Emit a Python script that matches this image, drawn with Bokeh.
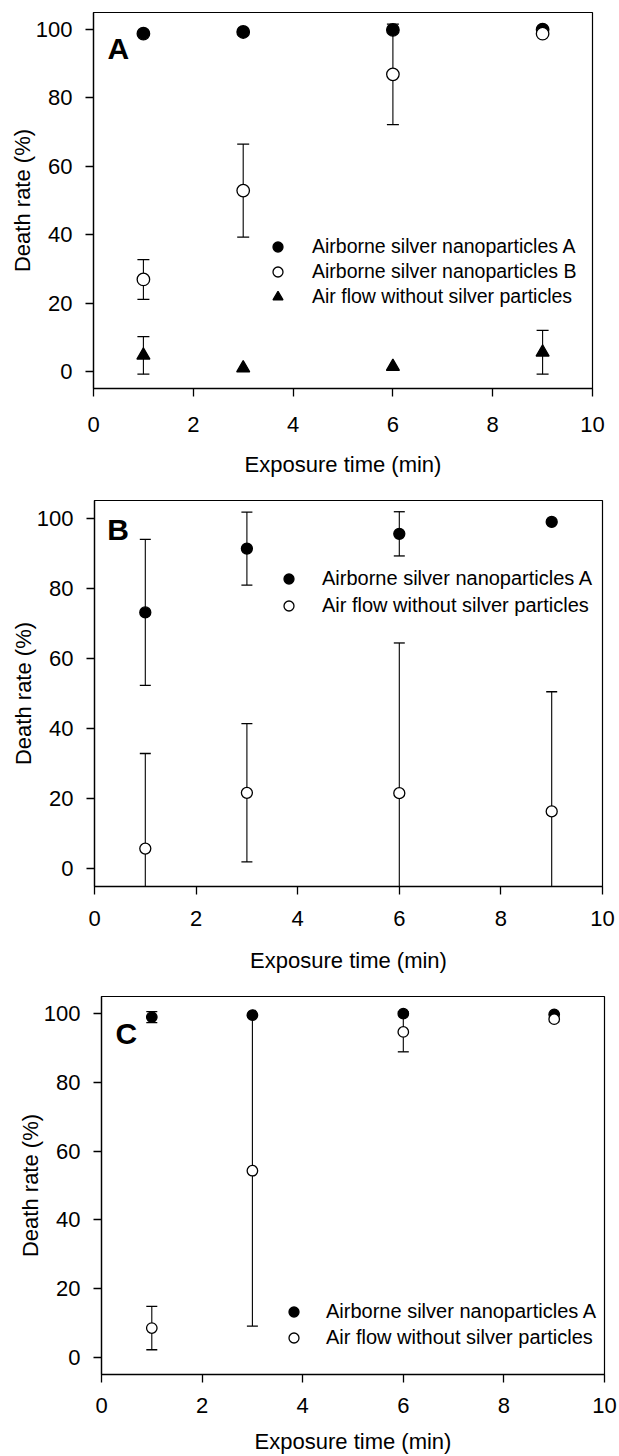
from bokeh.plotting import figure
from bokeh.models import ColumnDataSource, Legend, LegendItem, Label, FixedTicker, Range1d
from bokeh.embed import file_html
from bokeh.resources import INLINE

times = [1, 3, 6, 9]
x_ticks = [0, 2, 4, 6, 8, 10]
y_ticks = [0, 20, 40, 60, 80, 100]

label_np_a = "Airborne silver nanoparticles A"
label_np_b = "Airborne silver nanoparticles B"
label_ctrl = "Air flow without silver particles"
x_title = "Exposure time (min)"
y_title = "Death rate (%)"

# Panel A
a_np_a = [98.8, 99.3, 99.9, 100.0]
a_np_a_err = [0, 0, 0, 0]
a_np_b = [26.9, 52.9, 86.9, 98.8]
a_np_b_err = [5.8, 13.6, 14.7, 0]
a_ctrl = [4.7, 1.0, 1.4, 5.6]
a_ctrl_err = [5.5, 0, 0, 6.4]

# Panel B
b_np_a = [73.1, 91.3, 95.5, 98.9]
b_np_a_err = [20.8, 10.4, 6.3, 0]
b_ctrl = [5.8, 21.7, 21.6, 16.4]
b_ctrl_err = [27.1, 19.7, 42.8, 34.1]

# Panel C
c_np_a = [99.0, 99.6, 100.0, 99.8]
c_np_a_err = [1.6, 0, 0, 0]
c_ctrl = [8.5, 54.3, 94.7, 98.4]
c_ctrl_err = [6.3, 45.2, 5.8, 0]

FONT = "Liberation Sans"


def make_fig(width, height, bl, br, bt, bb, tick_standoff, title_standoff):
    p = figure(width=width, height=height, output_backend="svg", toolbar_location=None,
               x_range=Range1d(0, 10), y_range=Range1d(-5, 105))
    p.min_border_left = bl
    p.min_border_right = br
    p.min_border_top = bt
    p.min_border_bottom = bb
    p.grid.visible = False
    p.outline_line_color = "black"
    p.outline_line_width = 1.2
    p.background_fill_color = "white"
    p.border_fill_color = "white"
    p.xaxis.ticker = FixedTicker(ticks=x_ticks)
    p.yaxis.ticker = FixedTicker(ticks=y_ticks)
    for ax in (p.xaxis, p.yaxis):
        ax.axis_line_color = "black"
        ax.axis_line_width = 1.3
        ax.major_tick_line_color = "black"
        ax.major_tick_line_width = 1.3
        ax.major_tick_out = 8
        ax.major_tick_in = 0
        ax.minor_tick_line_color = None
        ax.major_label_text_font = FONT
        ax.major_label_text_font_size = "22px"
        ax.major_label_text_color = "black"
        ax.axis_label_text_font = FONT
        ax.axis_label_text_font_size = "22px"
        ax.axis_label_text_font_style = "normal"
        ax.axis_label_text_color = "black"
    p.xaxis.axis_label = x_title
    p.yaxis.axis_label = y_title
    p.xaxis.major_label_standoff = tick_standoff
    p.xaxis.axis_label_standoff = title_standoff
    p.yaxis.major_label_standoff = 13
    p.yaxis.axis_label_standoff = -2
    return p


def error_bars(p, vals, errs, cap):
    xs = [t for t, e in zip(times, errs) if e > 0]
    up = [v + e for v, e in zip(vals, errs) if e > 0]
    lo = [v - e for v, e in zip(vals, errs) if e > 0]
    src = ColumnDataSource(dict(x=xs, upper=up, lower=lo))
    p.segment(x0="x", y0="lower", x1="x", y1="upper", source=src, line_color="black", line_width=1.1)
    p.scatter(x="x", y="upper", source=src, marker="dash", size=cap, line_color="black", line_width=1.3)
    p.scatter(x="x", y="lower", source=src, marker="dash", size=cap, line_color="black", line_width=1.3)


def series(p, vals, marker, filled, size):
    src = ColumnDataSource(dict(x=times, y=vals))
    return p.scatter(x="x", y="y", source=src, marker=marker, size=size,
                     fill_color="black" if filled else "white", line_color="black", line_width=1.3)


def add_legend(p, items, loc, glyph, standoff, spacing, fsize):
    leg = Legend(items=[LegendItem(label=l, renderers=[r]) for l, r in items],
                 location=loc, glyph_width=glyph, glyph_height=glyph, label_standoff=standoff,
                 spacing=spacing, padding=0, margin=0, label_height=glyph,
                 border_line_alpha=0, background_fill_alpha=0,
                 label_text_font=FONT, label_text_font_size=fsize, label_text_color="black")
    p.add_layout(leg)


def letter(p, txt, x, y):
    p.add_layout(Label(x=x, y=y, text=txt, text_font=FONT, text_font_style="bold",
                       text_font_size="30px", text_baseline="alphabetic", text_color="black"))


# ---- Panel A ----
pA = make_fig(619, 480, 93, 27, 12, 92, 20, 17)
error_bars(pA, a_np_a, a_np_a_err, 12)
error_bars(pA, a_np_b, a_np_b_err, 12)
error_bars(pA, a_ctrl, a_ctrl_err, 12)
rA1 = series(pA, a_np_a, "circle", True, 12.5)
rA2 = series(pA, a_np_b, "circle", False, 12.5)
rA3 = series(pA, a_ctrl, "triangle", True, 13)
letter(pA, "A", 0.28, 94.6)
add_legend(pA, [(label_np_a, rA1), (label_np_b, rA2), (label_ctrl, rA3)],
           (172, 79), 25, 22, -2, "19.5px")

# ---- Panel B ----
pB = make_fig(619, 495, 94, 17, 20, 88, 16, 19)
error_bars(pB, b_np_a, b_np_a_err, 11)
error_bars(pB, b_ctrl, b_ctrl_err, 11)
rB1 = series(pB, b_np_a, "circle", True, 11)
rB2 = series(pB, b_ctrl, "circle", False, 11)
letter(pB, "B", 0.25, 96.6)
add_legend(pB, [(label_np_a, rB1), (label_ctrl, rB2)], (182, 268), 25, 21, 2, "20px")

# ---- Panel C ----
pC = make_fig(619, 481, 101, 15, 21, 77, 15, 13)
error_bars(pC, c_np_a, c_np_a_err, 11)
error_bars(pC, c_ctrl, c_ctrl_err, 11)
rC1 = series(pC, c_np_a, "circle", True, 10.5)
rC2 = series(pC, c_ctrl, "circle", False, 10.5)
letter(pC, "C", 0.28, 94.2)
add_legend(pC, [(label_np_a, rC1), (label_ctrl, rC2)], (180, 24), 25, 20, 1, "20px")

open("out.html", "w").write(file_html([pA, pB, pC], INLINE))
